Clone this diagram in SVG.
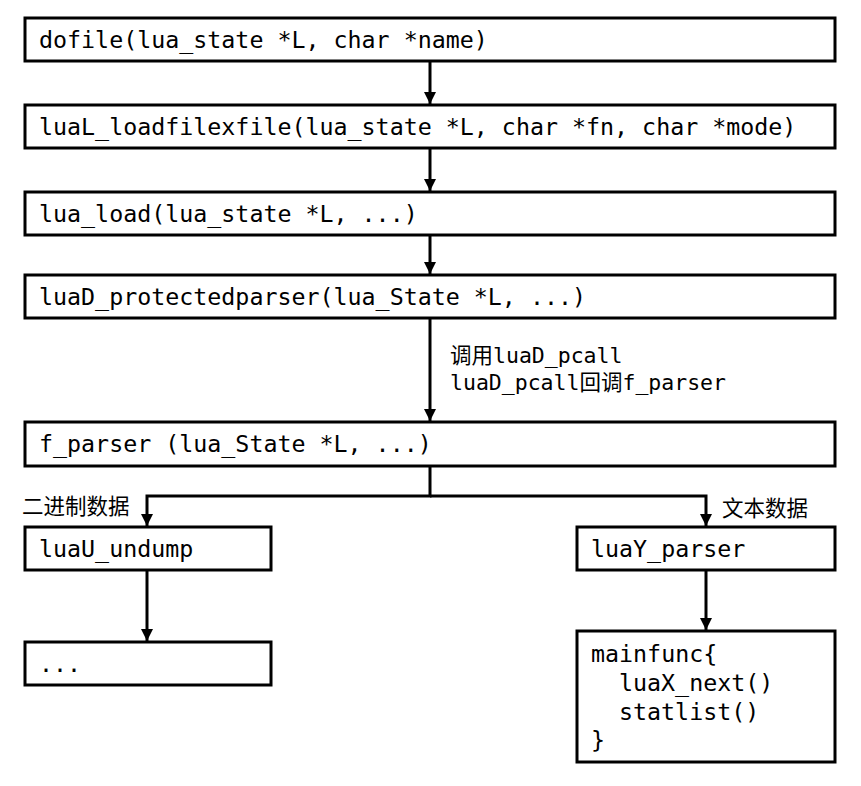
<svg xmlns="http://www.w3.org/2000/svg" width="861" height="786" viewBox="0 0 861 786">
<defs>
<style>
.box{fill:#fff;stroke:#000;stroke-width:3}
.t{font-family:"DejaVu Sans Mono","Liberation Mono","Noto Sans CJK SC",monospace;font-size:23.3px;fill:#000}
.l{font-family:"DejaVu Sans Mono","Noto Sans CJK SC",monospace;font-size:21.5px;fill:#000}
.c{font-family:"Noto Sans CJK SC",sans-serif;font-size:21.5px;fill:#000}
.e{fill:none;stroke:#000;stroke-width:3}
</style>
<marker id="ah" viewBox="0 0 10 10" refX="10" refY="5" markerWidth="4" markerHeight="4" orient="auto" markerUnits="strokeWidth">
<path d="M0,0 L10,5 L0,10 z" fill="#000"/>
</marker>
</defs>
<rect width="861" height="786" fill="#fff"/>
<g id="edges">
<path class="e" d="M430,61 V104" marker-end="url(#ah)"/>
<path class="e" d="M430,148 V191" marker-end="url(#ah)"/>
<path class="e" d="M430,235 V274" marker-end="url(#ah)"/>
<path class="e" d="M430,318 V421" marker-end="url(#ah)"/>
<path class="e" d="M430,466 V496 H147 V526" marker-end="url(#ah)"/>
<path class="e" d="M430,496 H706 V526" marker-end="url(#ah)"/>
<path class="e" d="M147,570 V641" marker-end="url(#ah)"/>
<path class="e" d="M706,570 V630" marker-end="url(#ah)"/>
<text class="l" x="450" y="363">调用luaD_pcall</text>
<text class="l" x="450" y="390">luaD_pcall回调f_parser</text>
<text class="c" x="22" y="514">二进制数据</text>
<text class="c" x="722" y="516">文本数据</text>
</g>
<g id="n1"><rect class="box" x="25" y="18" width="810" height="43"/><text class="t" x="39" y="48">dofile(lua_state *L, char *name)</text></g>
<g id="n2"><rect class="box" x="25" y="105" width="810" height="43"/><text class="t" x="39" y="135">luaL_loadfilexfile(lua_state *L, char *fn, char *mode)</text></g>
<g id="n3"><rect class="box" x="25" y="192" width="810" height="43"/><text class="t" x="39" y="222">lua_load(lua_state *L, ...)</text></g>
<g id="n4"><rect class="box" x="25" y="275" width="810" height="43"/><text class="t" x="39" y="305">luaD_protectedparser(lua_State *L, ...)</text></g>
<g id="n5"><rect class="box" x="25" y="422" width="810" height="44"/><text class="t" x="39" y="452">f_parser (lua_State *L, ...)</text></g>
<g id="n6"><rect class="box" x="25" y="527" width="246" height="43"/><text class="t" x="39" y="557">luaU_undump</text></g>
<g id="n7"><rect class="box" x="577" y="527" width="258" height="43"/><text class="t" x="591" y="557">luaY_parser</text></g>
<g id="n8"><rect class="box" x="25" y="642" width="246" height="43"/><text class="t" x="39" y="672">...</text></g>
<g id="n9"><rect class="box" x="577" y="631" width="258" height="131"/>
<text class="t" x="591" y="662">mainfunc{</text>
<text class="t" x="619" y="691">luaX_next()</text>
<text class="t" x="619" y="720">statlist()</text>
<text class="t" x="591" y="748">}</text>
</g>
</svg>
